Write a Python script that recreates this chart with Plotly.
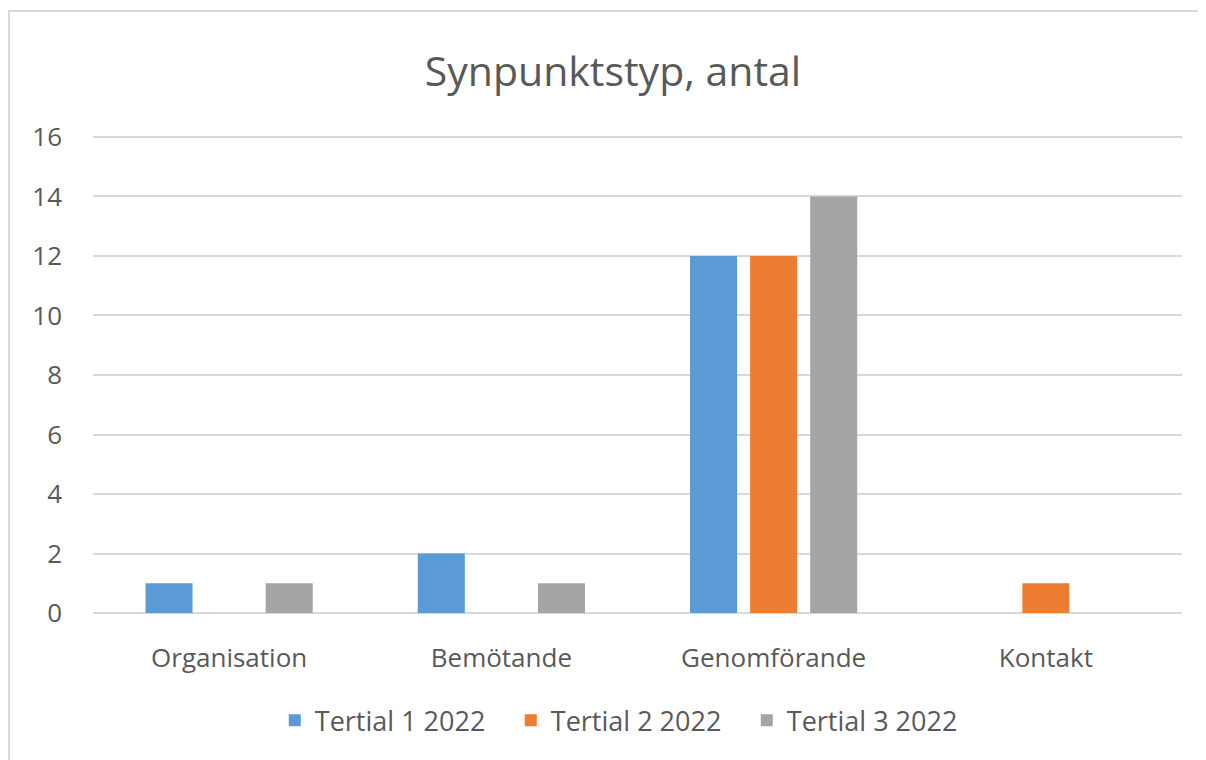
import plotly.graph_objects as go

# Chart data
categories = ["Organisation", "Bemötande", "Genomförande", "Kontakt"]
series_names = ["Tertial 1 2022", "Tertial 2 2022", "Tertial 3 2022"]
tertial_1 = [1, 2, 12, 0]
tertial_2 = [0, 0, 12, 1]
tertial_3 = [1, 1, 14, 0]
y_ticks = [0, 2, 4, 6, 8, 10, 12, 14, 16]

colors = ["#5B9BD5", "#ED7D31", "#A5A5A5"]
font_family = "'Open Sans', sans-serif"
text_color = "#595959"

fig = go.Figure()
for name, values, color in zip(series_names, [tertial_1, tertial_2, tertial_3], colors):
    fig.add_trace(go.Bar(x=categories, y=values, name=name, marker_color=color,
                         marker_line_width=0))

# page body has an 8px margin, so the figure is 8px smaller than the window
fig.update_layout(
    width=1198, height=752,
    paper_bgcolor="white", plot_bgcolor="white",
    margin=dict(l=85, r=24, t=126, b=144),
    barmode="group", bargap=0.338, bargroupgap=0.217,
    title=dict(text="Synpunktstyp, antal", x=0.505, xanchor="center", y=0.915, yanchor="middle",
               font=dict(family=font_family, size=41, color=text_color)),
    font=dict(family=font_family, size=26, color=text_color),
    legend=dict(orientation="h", x=0.492, xanchor="center", y=-0.217, yanchor="middle",
                font=dict(family=font_family, size=27, color=text_color),
                itemwidth=30, entrywidth=191, entrywidthmode="pixels", traceorder="normal"),
    showlegend=True,
)
fig.update_yaxes(range=[-0.1, 16.1], tickvals=y_ticks, showgrid=True, gridcolor="#D9D9D9",
                 gridwidth=1.5, zeroline=False, showline=False, ticklabelstandoff=30,
                 tickfont=dict(size=26, color=text_color))
fig.update_xaxes(showgrid=False, zeroline=False, showline=False, ticklabelstandoff=24,
                 tickfont=dict(size=26, color=text_color))

# chart border
fig.add_shape(type="rect", xref="paper", yref="paper", x0=-0.0771, x1=1.0211, y0=-0.32, y1=1.255,
              line=dict(color="#D9D9D9", width=2), fillcolor="rgba(0,0,0,0)", layer="below")

fig.write_html("out.html")
